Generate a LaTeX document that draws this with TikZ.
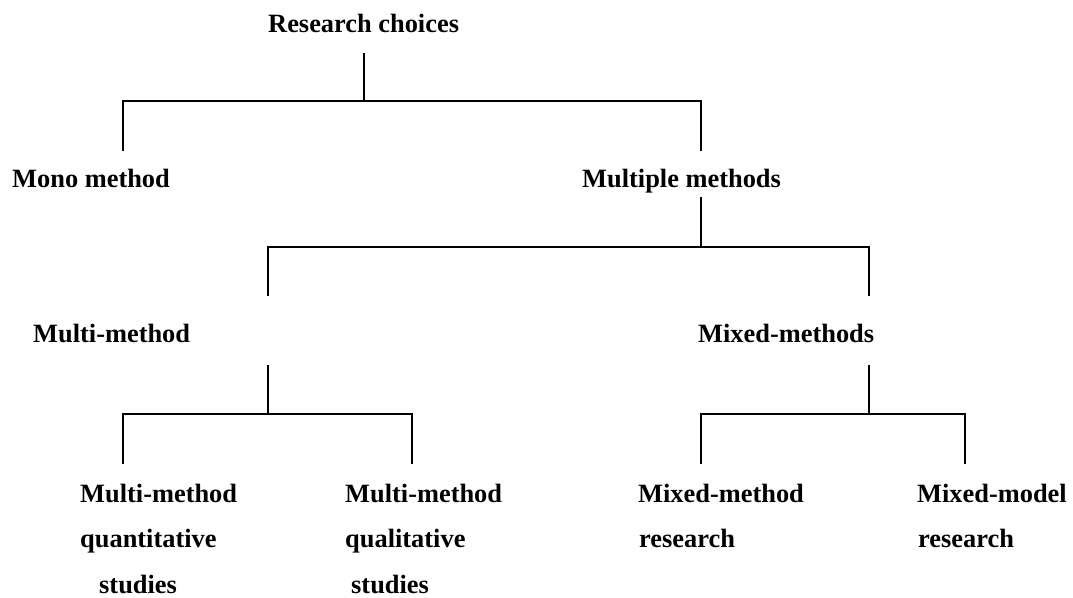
\documentclass[tikz,border=0pt]{standalone}
\usepackage{fontspec}
\setmainfont{Liberation Serif}
\begin{document}
\begin{tikzpicture}[x=1pt,y=-1pt,
  lbl/.style={anchor=base west,inner sep=0pt,font=\fontsize{26.4}{31}\selectfont\bfseries},
  tree/.style={line width=1.3pt,line cap=rect}]
\useasboundingbox (0,0) rectangle (1073,597);
% labels
\node[lbl] (rc) at (268,32) {Research choices};
\node[lbl] (mono) at (12,187) {Mono method};
\node[lbl] (mult) at (582,187) {Multiple methods};
\node[lbl] (mm) at (33,342) {Multi-method};
\node[lbl] (mx) at (698,342) {Mixed-methods};
\node[lbl] (qn1) at (80,502) {Multi-method};
\node[lbl] (qn2) at (80,547) {quantitative};
\node[lbl] (qn3) at (99,593) {studies};
\node[lbl] (ql1) at (345,502) {Multi-method};
\node[lbl] (ql2) at (345,547) {qualitative};
\node[lbl] (ql3) at (351,593) {studies};
\node[lbl] (mr1) at (638,502) {Mixed-method};
\node[lbl] (mr2) at (639,547) {research};
\node[lbl] (md1) at (917,502) {Mixed-model};
\node[lbl] (md2) at (918,547) {research};
% connector points
\coordinate (a0) at (364,54);  \coordinate (a1) at (364,101);
\coordinate (aL) at (123,101); \coordinate (aR) at (701,101);
\coordinate (aLd) at (123,150); \coordinate (aRd) at (701,150);
\coordinate (b0) at (701,198); \coordinate (b1) at (701,247);
\coordinate (bL) at (268,247); \coordinate (bR) at (869,247);
\coordinate (bLd) at (268,295); \coordinate (bRd) at (869,295);
\coordinate (c0) at (268,366); \coordinate (c1) at (268,414);
\coordinate (cL) at (123,414); \coordinate (cR) at (412,414);
\coordinate (cLd) at (123,463); \coordinate (cRd) at (412,463);
\coordinate (d0) at (869,366); \coordinate (d1) at (869,414);
\coordinate (dL) at (701,414); \coordinate (dR) at (965,414);
\coordinate (dLd) at (701,463); \coordinate (dRd) at (965,463);
% connectors
\draw[tree] (a0) -- (a1);
\draw[tree] (aLd) -- (aL) -- (aR) -- (aRd);
\draw[tree] (b0) -- (b1);
\draw[tree] (bLd) -- (bL) -- (bR) -- (bRd);
\draw[tree] (c0) -- (c1);
\draw[tree] (cLd) -- (cL) -- (cR) -- (cRd);
\draw[tree] (d0) -- (d1);
\draw[tree] (dLd) -- (dL) -- (dR) -- (dRd);
\end{tikzpicture}
\end{document}
